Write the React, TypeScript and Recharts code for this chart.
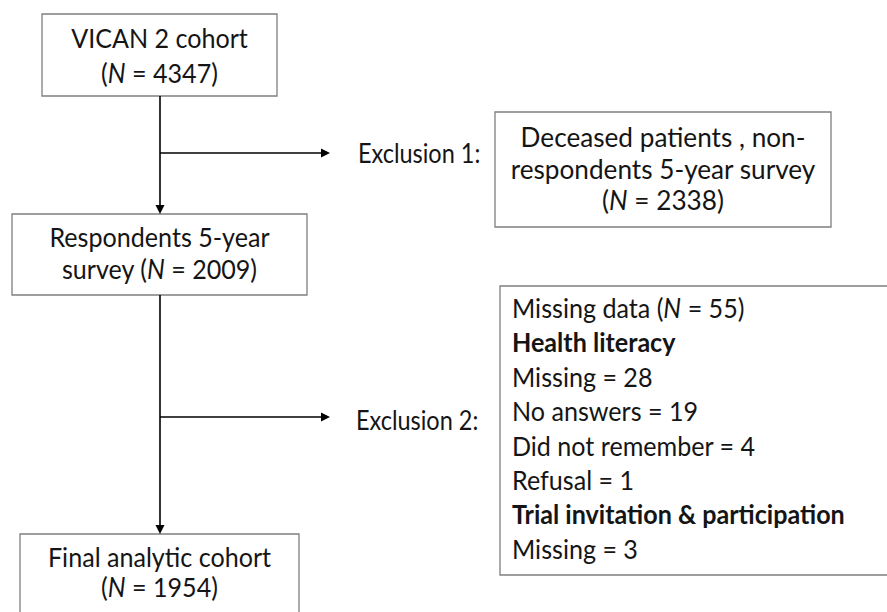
import React from "react";
import { ComposedChart, XAxis, YAxis, ReferenceArea, ReferenceLine, ReferenceDot } from "recharts";

// ---- data ----
const stageLabels = ["VICAN 2 cohort", "Respondents 5-year survey", "Final analytic cohort"];
const stageN = [4347, 2009, 1954];
const exclusionLabels = ["Exclusion 1:", "Exclusion 2:"];
const exclusion1Text = ["Deceased patients , non-", "respondents 5-year survey"];
const exclusion1N = 2338;
const missingTotalN = 55;
const healthLiteracyItems = ["Missing", "No answers", "Did not remember", "Refusal"];
const healthLiteracyN = [28, 19, 4, 1];
const trialItems = ["Missing"];
const trialN = [3];
const sectionTitles = ["Health literacy", "Trial invitation & participation"];

// ---- layout (chart coordinate space) ----
const W = 887;
const H = 612;
const FONT = "Lato, 'Open Sans', sans-serif";
const FS = 27;
const SX = 0.93;
const BOX_STROKE = "#7f7f7f";

type Line = { parts: { t: string; italic?: boolean; bold?: boolean }[] };
const nLine = (prefix: string, n: number, suffix = ")"): Line => ({
  parts: [{ t: prefix + "(" }, { t: "N", italic: true }, { t: ` = ${n}${suffix}` }],
});

const box1Lines: Line[] = [{ parts: [{ t: stageLabels[0] }] }, nLine("", stageN[0])];
const box2Lines: Line[] = [
  { parts: [{ t: "Respondents 5-year" }] },
  nLine("survey ", stageN[1]),
];
const box3Lines: Line[] = [{ parts: [{ t: stageLabels[2] }] }, nLine("", stageN[2])];
const exc1Lines: Line[] = [
  { parts: [{ t: exclusion1Text[0] }] },
  { parts: [{ t: exclusion1Text[1] }] },
  nLine("", exclusion1N),
];
const exc2Lines: Line[] = [
  nLine("Missing data ", missingTotalN),
  { parts: [{ t: sectionTitles[0], bold: true }] },
  ...healthLiteracyItems.map((k, i) => ({ parts: [{ t: `${k} = ${healthLiteracyN[i]}` }] })),
  { parts: [{ t: sectionTitles[1], bold: true }] },
  ...trialItems.map((k, i) => ({ parts: [{ t: `${k} = ${trialN[i]}` }] })),
];

const TextLine = ({
  x,
  y,
  line,
  anchor,
  sx = SX,
}: {
  x: number;
  y: number;
  line: Line;
  anchor: "start" | "middle" | "end";
  sx?: number;
}) => (
  <text
    transform={`translate(${x},${y}) scale(${sx},1)`}
    textAnchor={anchor}
    fontFamily={FONT}
    fontSize={FS}
    fill="#151515"
  >
    {line.parts.map((p, i) => (
      <tspan key={i} fontStyle={p.italic ? "italic" : "normal"} fontWeight={p.bold ? 700 : 400}>
        {p.t}
      </tspan>
    ))}
  </text>
);

const boxLabel =
  (lines: Line[], firstBaseline: number, step: number, align: "middle" | "start", sx = SX, padX = 12) =>
  (props: any) => {
    const vb = props.viewBox || {};
    const x = align === "middle" ? vb.x + vb.width / 2 : vb.x + padX;
    return (
      <g>
        {lines.map((l, i) => (
          <TextLine key={i} x={x} y={vb.y + firstBaseline + i * step} line={l} anchor={align} sx={sx} />
        ))}
      </g>
    );
  };

const plainLabel = (text: string) => (props: any) => {
  const vb = props.viewBox || {};
  return <TextLine x={vb.x} y={vb.y + vb.height} line={{ parts: [{ t: text }] }} anchor="start" sx={0.87} />;
};

const arrowHead = (dir: "down" | "right") => (props: any) => {
  const { cx, cy } = props;
  const L = 9;
  const Hw = 4.5;
  const pts =
    dir === "down"
      ? `${cx},${cy} ${cx - Hw},${cy - L} ${cx + Hw},${cy - L}`
      : `${cx},${cy} ${cx - L},${cy - Hw} ${cx - L},${cy + Hw}`;
  return <polygon points={pts} fill="#000" />;
};

const boxes = [
  { x1: 42, x2: 277, y1: 14, y2: 96, lines: box1Lines, fb: 34, step: 35, align: "middle" as const, sx: SX },
  { x1: 12, x2: 307, y1: 214, y2: 295, lines: box2Lines, fb: 33, step: 32, align: "middle" as const, sx: SX },
  { x1: 20, x2: 299, y1: 534, y2: 650, lines: box3Lines, fb: 33, step: 30, align: "middle" as const, sx: SX },
  { x1: 495, x2: 831, y1: 112, y2: 227, lines: exc1Lines, fb: 35, step: 31.5, align: "middle" as const, sx: 0.97 },
  { x1: 500, x2: 900, y1: 286, y2: 575, lines: exc2Lines, fb: 32, step: 34.4, align: "start" as const, sx: SX },
];

const connectors = [
  { seg: [{ x: 160, y: 96 }, { x: 160, y: 207 }], tip: { x: 160, y: 214 }, dir: "down" as const },
  { seg: [{ x: 160, y: 295 }, { x: 160, y: 527 }], tip: { x: 160, y: 534 }, dir: "down" as const },
  { seg: [{ x: 160, y: 153 }, { x: 323, y: 153 }], tip: { x: 330, y: 153 }, dir: "right" as const },
  { seg: [{ x: 160, y: 417 }, { x: 323, y: 417 }], tip: { x: 330, y: 417 }, dir: "right" as const },
];

const exclusionLabelPos = [
  { x1: 358, x2: 480, y1: 140, y2: 163 },
  { x1: 356, x2: 480, y1: 406, y2: 430 },
];

export default function App() {
  return (
    <div style={{ position: "fixed", left: 0, top: 0, width: W, height: H, background: "#fff" }}>
      <ComposedChart width={W} height={H} data={[]} margin={{ top: 0, right: 0, bottom: 0, left: 0 }}>
        <XAxis type="number" dataKey="x" domain={[0, W]} hide allowDataOverflow />
        <YAxis type="number" dataKey="y" domain={[0, H]} reversed hide allowDataOverflow />
        {boxes.map((b, i) => (
          <ReferenceArea
            key={`b${i}`}
            x1={b.x1}
            x2={b.x2}
            y1={b.y1}
            y2={b.y2}
            ifOverflow="visible"
            fill="#fff"
            fillOpacity={1}
            stroke={BOX_STROKE}
            strokeWidth={1.3}
            label={{ content: boxLabel(b.lines, b.fb, b.step, b.align, b.sx) }}
          />
        ))}
        {connectors.map((c, i) => (
          <ReferenceLine key={`c${i}`} segment={c.seg} stroke="#000" strokeWidth={1.6} ifOverflow="visible" />
        ))}
        {connectors.map((c, i) => (
          <ReferenceDot key={`d${i}`} x={c.tip.x} y={c.tip.y} r={0} ifOverflow="visible" shape={arrowHead(c.dir)} />
        ))}
        {exclusionLabelPos.map((p, i) => (
          <ReferenceArea
            key={`e${i}`}
            x1={p.x1}
            x2={p.x2}
            y1={p.y1}
            y2={p.y2}
            ifOverflow="visible"
            fill="none"
            stroke="none"
            label={{ content: plainLabel(exclusionLabels[i]) }}
          />
        ))}
      </ComposedChart>
    </div>
  );
}
